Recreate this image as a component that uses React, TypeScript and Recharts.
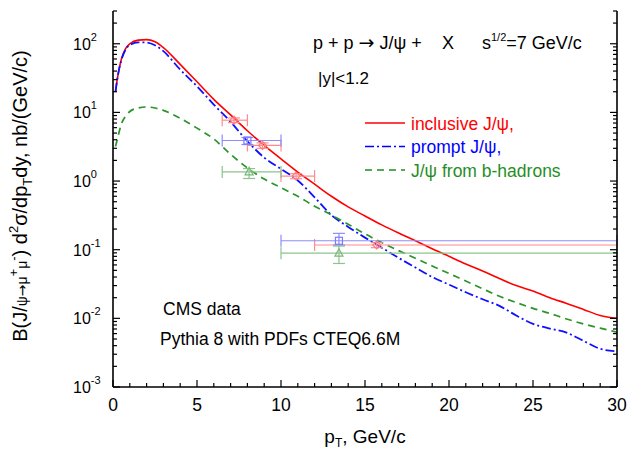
import React from 'react';
import { ComposedChart, Line, Scatter, XAxis, YAxis, ErrorBar, Legend } from 'recharts';

const FONT = '"Liberation Sans", Arial, Helvetica, sans-serif';

// Model curves (Pythia 8)
const pT = [0.15, 0.25, 0.5, 0.75, 1, 1.5, 2, 2.5, 3, 4, 5, 6, 7, 8, 9, 10, 11, 12, 13, 14, 15, 16, 17, 18, 19, 20, 21, 22, 23, 24, 25, 26, 27, 28, 29, 30];
const inclusive = [20, 30, 60, 85, 100, 113, 115, 107, 88, 50, 28, 15.5, 9.2, 5.4, 3.3, 2.1, 1.35, 0.9, 0.6, 0.42, 0.31, 0.23, 0.175, 0.135, 0.103, 0.08, 0.062, 0.049, 0.038, 0.03, 0.025, 0.02, 0.0165, 0.0135, 0.011, 0.01];
const prompt = [20, 30, 58, 82, 96, 105, 104, 95, 78, 42, 24, 13, 7.3, 3.8, 2.2, 1.5, 1.02, 0.58, 0.32, 0.215, 0.15, 0.107, 0.076, 0.055, 0.04, 0.031, 0.024, 0.019, 0.0152, 0.011, 0.0083, 0.0071, 0.0062, 0.0047, 0.0036, 0.0033];
const bHadrons = [3.2, 4.0, 6.8, 8.8, 10.3, 11.6, 12.0, 11.6, 10.7, 8.2, 5.9, 4.1, 2.45, 1.55, 1.07, 0.8, 0.6, 0.43, 0.32, 0.235, 0.17, 0.127, 0.097, 0.075, 0.058, 0.045, 0.035, 0.027, 0.021, 0.017, 0.014, 0.0118, 0.0098, 0.0083, 0.0072, 0.0063];

const seriesNames = ['inclusive J/\u03c8,', 'prompt J/\u03c8,', 'J/\u03c8 from b-hadrons'];
const seriesColors = ['#ff0000', '#0000ff', '#1f8f1f'];
const seriesDash = ['', '9 3 2 3', '7 5'];

// CMS data
const cmsInclPt = [7.2, 8.9, 10.9, 15.7];
const cmsInclVal = [7.7, 3.3, 1.18, 0.117];
const cmsInclBinLo = [6.5, 8, 10, 12];
const cmsInclBinHi = [8, 10, 12, 30];
const cmsInclErrLo = [0.6, 0.3, 0.1, 0.01];
const cmsInclErrHi = [0.6, 0.3, 0.1, 0.01];

const cmsPromptPt = [8.0, 13.45];
const cmsPromptVal = [3.9, 0.135];
const cmsPromptBinLo = [6.5, 10];
const cmsPromptBinHi = [10, 30];
const cmsPromptErrLo = [0.5, 0.018];
const cmsPromptErrHi = [0.4, 0.038];

const cmsBPt = [8.1, 13.45];
const cmsBVal = [1.36, 0.089];
const cmsBBinLo = [6.5, 10];
const cmsBBinHi = [10, 30];
const cmsBErrLo = [0.27, 0.026];
const cmsBErrHi = [0.16, 0.024];

// Ticks
const xMajorTicks = [0, 5, 10, 15, 20, 25, 30];
const xTickLabels = ['0', '5', '10', '15', '20', '25', '30'];
const xAllTicks = Array.from({ length: 31 }, (_, i) => i);
const yMajorTicks = [0.001, 0.01, 0.1, 1, 10, 100];
const yTickExponents = ['-3', '-2', '-1', '0', '1', '2'];
const yMinorFactors = [2, 3, 4, 5, 6, 7, 8, 9];
const yDomain = [0.001, 300];
const yAllTicks: number[] = [];
yMajorTicks.forEach((m) => {
  yAllTicks.push(m);
  yMinorFactors.forEach((f) => {
    const v = +(m * f).toPrecision(6);
    if (v <= yDomain[1]) yAllTicks.push(v);
  });
});

const curveRows = pT.map((p, i) => ({ pt: p, incl: inclusive[i], prompt: prompt[i], bhad: bHadrons[i] }));
const mkPts = (pt: number[], val: number[], lo: number[], hi: number[], el: number[], eh: number[]) =>
  pt.map((p, i) => ({ pt: p, val: val[i], ex: [p - lo[i], hi[i] - p], ey: [el[i], eh[i]] }));
const inclRows = mkPts(cmsInclPt, cmsInclVal, cmsInclBinLo, cmsInclBinHi, cmsInclErrLo, cmsInclErrHi);
const promptRows = mkPts(cmsPromptPt, cmsPromptVal, cmsPromptBinLo, cmsPromptBinHi, cmsPromptErrLo, cmsPromptErrHi);
const bRows = mkPts(cmsBPt, cmsBVal, cmsBBinLo, cmsBBinHi, cmsBErrLo, cmsBErrHi);

const majorYIndex = (v: number) => yMajorTicks.findIndex((m) => Math.abs(v / m - 1) < 1e-6);

const BottomTick = (props: any) => {
  const { x, y, payload } = props;
  const idx = xMajorTicks.indexOf(payload.value);
  const major = idx >= 0;
  return (
    <g>
      <line x1={x} y1={y} x2={x} y2={y - (major ? 7 : 4)} stroke="#000" strokeWidth={1.2} />
      {major && (
        <text x={x} y={y + 24} textAnchor="middle" fontSize={17.5} fontFamily={FONT} fill="#000">
          {xTickLabels[idx]}
        </text>
      )}
    </g>
  );
};
const TopTick = (props: any) => {
  const { x, y, payload } = props;
  const major = xMajorTicks.indexOf(payload.value) >= 0;
  return <line x1={x} y1={y} x2={x} y2={y + (major ? 7 : 4)} stroke="#000" strokeWidth={1.2} />;
};
const LeftTick = (props: any) => {
  const { x, y, payload } = props;
  const idx = majorYIndex(payload.value);
  const major = idx >= 0;
  return (
    <g>
      <line x1={x} y1={y} x2={x + (major ? 7 : 4)} y2={y} stroke="#000" strokeWidth={1.2} />
      {major && (
        <text x={73} y={y + 6} fontSize={16} fontFamily={FONT} fill="#000">
          10
          <tspan dy={-9} fontSize={11}>
            {yTickExponents[idx]}
          </tspan>
        </text>
      )}
    </g>
  );
};
const RightTick = (props: any) => {
  const { x, y, payload } = props;
  const major = majorYIndex(payload.value) >= 0;
  return <line x1={x} y1={y} x2={x - (major ? 7 : 4)} y2={y} stroke="#000" strokeWidth={1.2} />;
};

const Diamond = (props: any) => {
  const { cx, cy } = props;
  if (cx == null || cy == null) return null;
  const r = 4;
  return <path d={`M${cx},${cy - r}L${cx + r},${cy}L${cx},${cy + r}L${cx - r},${cy}Z`} fill="none" stroke="#ff7a7a" strokeWidth={1.2} />;
};
const Square = (props: any) => {
  const { cx, cy } = props;
  if (cx == null || cy == null) return null;
  return <rect x={cx - 3.5} y={cy - 3.5} width={7} height={7} fill="none" stroke="#7a7aff" strokeWidth={1.2} />;
};
const Triangle = (props: any) => {
  const { cx, cy } = props;
  if (cx == null || cy == null) return null;
  return <path d={`M${cx},${cy - 4.5}L${cx + 4},${cy + 3}L${cx - 4},${cy + 3}Z`} fill="none" stroke="#7ab87a" strokeWidth={1.2} />;
};

const renderLegend = () => (
  <svg width={260} height={75} style={{ overflow: 'visible' }}>
    {seriesNames.map((name, i) => {
      const y = 13 + i * 23.5;
      return (
        <g key={name}>
          <line x1={5} y1={y} x2={45} y2={y} stroke={seriesColors[i]} strokeWidth={1.7} strokeDasharray={seriesDash[i] || undefined} />
          <text x={51} y={y + 6.5} fontSize={17.5} fontFamily={FONT} fill={seriesColors[i]}>
            {name}
          </text>
        </g>
      );
    })}
  </svg>
);

export default function App() {
  return (
    <div style={{ position: 'absolute', left: 0, top: 0, width: 630, height: 452, background: '#fff' }}>
      <ComposedChart width={630} height={452} data={curveRows} margin={{ top: 11, right: 0, bottom: 0, left: 0 }}>
        <XAxis
          xAxisId="b"
          dataKey="pt"
          type="number"
          domain={[0, 30]}
          allowDataOverflow
          ticks={xAllTicks}
          interval={0}
          tickSize={0}
          tickMargin={0}
          tickLine={false}
          height={65}
          axisLine={{ stroke: '#000', strokeWidth: 1.6 }}
          tick={(p: any) => <BottomTick {...p} />}
        />
        <XAxis
          xAxisId="t"
          orientation="top"
          dataKey="pt"
          type="number"
          domain={[0, 30]}
          allowDataOverflow
          ticks={xAllTicks}
          interval={0}
          tickSize={0}
          tickMargin={0}
          tickLine={false}
          height={0}
          axisLine={{ stroke: '#000', strokeWidth: 1.6 }}
          tick={(p: any) => <TopTick {...p} />}
        />
        <YAxis
          yAxisId="l"
          type="number"
          scale="log"
          domain={yDomain}
          allowDataOverflow
          ticks={yAllTicks}
          interval={0}
          tickSize={0}
          tickMargin={0}
          tickLine={false}
          width={113}
          axisLine={{ stroke: '#000', strokeWidth: 1.6 }}
          tick={(p: any) => <LeftTick {...p} />}
        />
        <YAxis
          yAxisId="r"
          orientation="right"
          type="number"
          scale="log"
          domain={yDomain}
          allowDataOverflow
          ticks={yAllTicks}
          interval={0}
          tickSize={0}
          tickMargin={0}
          tickLine={false}
          width={13}
          axisLine={{ stroke: '#000', strokeWidth: 1.6 }}
          tick={(p: any) => <RightTick {...p} />}
        />
        <Line xAxisId="b" yAxisId="l" type="monotone" dataKey="incl" stroke={seriesColors[0]} strokeWidth={1.6} dot={false} isAnimationActive={false} />
        <Line xAxisId="b" yAxisId="l" type="monotone" dataKey="prompt" stroke="#1010ff" strokeWidth={1.8} strokeDasharray={seriesDash[1]} dot={false} isAnimationActive={false} />
        <Line xAxisId="b" yAxisId="l" type="monotone" dataKey="bhad" stroke="#2a952a" strokeWidth={1.7} strokeDasharray={seriesDash[2]} dot={false} isAnimationActive={false} />
        <Scatter xAxisId="b" yAxisId="l" data={inclRows} dataKey="val" shape={(p: any) => <Diamond {...p} />} isAnimationActive={false}>
          <ErrorBar dataKey="ex" direction="x" stroke="#ff8c8c" strokeWidth={1.2} width={6} />
          <ErrorBar dataKey="ey" direction="y" stroke="#ff8c8c" strokeWidth={1.2} width={6} />
        </Scatter>
        <Scatter xAxisId="b" yAxisId="l" data={promptRows} dataKey="val" shape={(p: any) => <Square {...p} />} isAnimationActive={false}>
          <ErrorBar dataKey="ex" direction="x" stroke="#8c8cff" strokeWidth={1.2} width={6} />
          <ErrorBar dataKey="ey" direction="y" stroke="#8c8cff" strokeWidth={1.2} width={6} />
        </Scatter>
        <Scatter xAxisId="b" yAxisId="l" data={bRows} dataKey="val" shape={(p: any) => <Triangle {...p} />} isAnimationActive={false}>
          <ErrorBar dataKey="ex" direction="x" stroke="#8cc48c" strokeWidth={1.2} width={6} />
          <ErrorBar dataKey="ey" direction="y" stroke="#8cc48c" strokeWidth={1.2} width={6} />
        </Scatter>
        <Legend
          layout="vertical"
          align="center"
          verticalAlign="middle"
          content={renderLegend}
          wrapperStyle={{ position: 'absolute', left: 360, top: 110, width: 260, height: 75 }}
        />
      </ComposedChart>
      <svg width={630} height={452} style={{ position: 'absolute', left: 0, top: 0, pointerEvents: 'none' }} fontFamily={FONT}>
        <text x={313} y={49} fontSize={18} fill="#000">
          p + p <tspan fontFamily='"DejaVu Sans", sans-serif' fontSize={19}>{'\u2192'}</tspan> J/{'\u03c8'} +
        </text>
        <text x={442} y={49} fontSize={18} fill="#000">X</text>
        <text x={482} y={49} fontSize={18} fill="#000">
          s<tspan dy={-8} fontSize={11}>1/2</tspan>
          <tspan dy={8}>=7 GeV/c</tspan>
        </text>
        <text x={318} y={84} fontSize={17} fill="#000">|y|&lt;1.2</text>
        <text x={163} y={315} fontSize={17.5} fill="#000">CMS data</text>
        <text x={160} y={345} fontSize={17.5} fill="#000">Pythia 8 with PDFs CTEQ6.6M</text>
        <text x={365} y={443} textAnchor="middle" fontSize={19} fill="#000">
          p<tspan fontSize={12} dy={4}>T</tspan>
          <tspan dy={-4}>, GeV/c</tspan>
        </text>
        <text transform="translate(27,196) rotate(-90)" textAnchor="middle" fontSize={20} fill="#000">
          B(J/<tspan fontSize={14}>{'\u03c8'}</tspan>
          <tspan fontSize={14} fontFamily='"DejaVu Sans", sans-serif'>{'\u2192'}</tspan>
          <tspan fontSize={14}>{'\u03bc'}</tspan>
          <tspan fontSize={13} dy={-9}>+</tspan>
          <tspan fontSize={14} dy={9}>{'\u03bc'}</tspan>
          <tspan fontSize={13} dy={-9}>-</tspan>
          <tspan dy={9}>) d</tspan>
          <tspan fontSize={13} dy={-9}>2</tspan>
          <tspan dy={9}>{'\u03c3'}/dp</tspan>
          <tspan fontSize={13} dy={5}>T</tspan>
          <tspan dy={-5}>dy, nb/(GeV/c)</tspan>
        </text>
      </svg>
    </div>
  );
}
